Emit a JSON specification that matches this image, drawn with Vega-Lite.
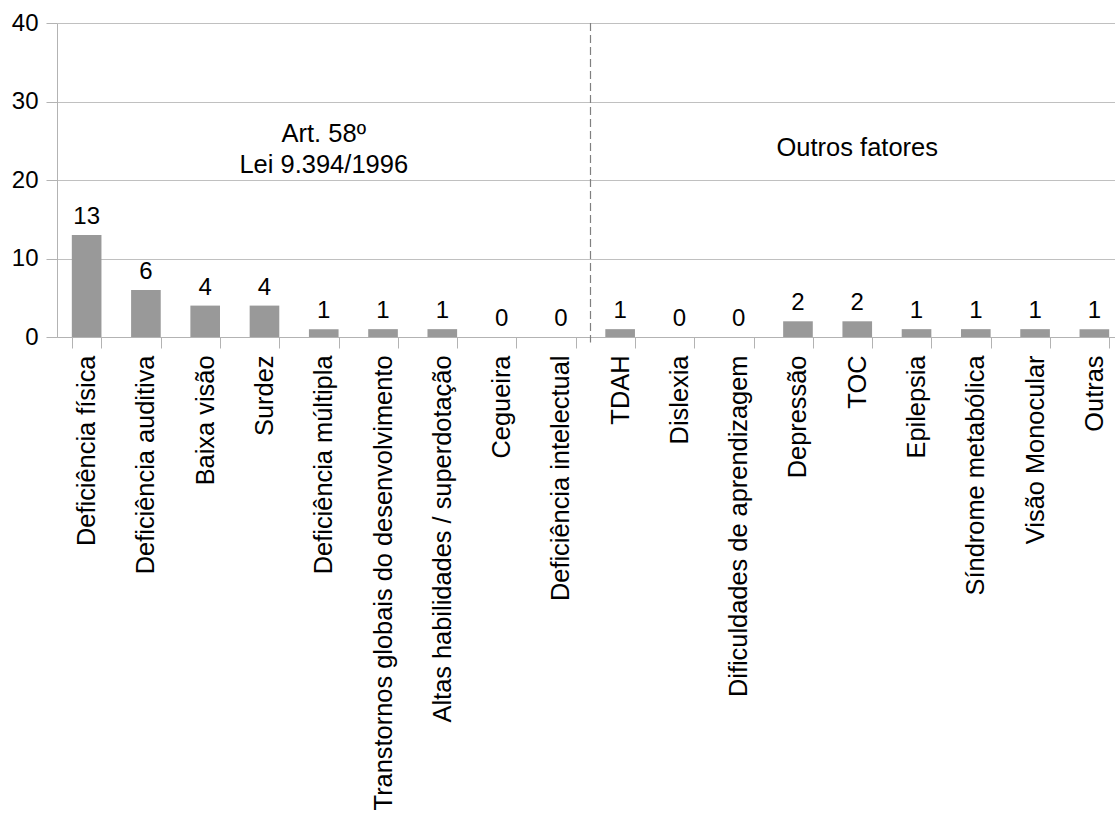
{
  "$schema": "https://vega.github.io/schema/vega-lite/v6.json",
  "autosize": {"type": "none"},
  "padding": {"left": 57, "top": 23, "right": 0, "bottom": 481},
  "width": 1067,
  "height": 314,
  "config": {
    "view": {"stroke": null},
    "font": "Liberation Sans",
    "axis": {"labelFont": "Liberation Sans", "labelColor": "#000000", "domainColor": "#b3b3b3", "tickColor": "#b3b3b3", "gridColor": "#c0c0c0", "domainWidth": 1, "tickWidth": 1, "gridWidth": 1}
  },
  "datasets": {
    "counts": [
      {"cat": "Deficiência física", "n": 13},
      {"cat": "Deficiência auditiva", "n": 6},
      {"cat": "Baixa visão", "n": 4},
      {"cat": "Surdez", "n": 4},
      {"cat": "Deficiência múltipla", "n": 1},
      {"cat": "Transtornos globais do desenvolvimento", "n": 1},
      {"cat": "Altas habilidades / superdotação", "n": 1},
      {"cat": "Cegueira", "n": 0},
      {"cat": "Deficiência intelectual", "n": 0},
      {"cat": "TDAH", "n": 1},
      {"cat": "Dislexia", "n": 0},
      {"cat": "Dificuldades de aprendizagem", "n": 0},
      {"cat": "Depressão", "n": 2},
      {"cat": "TOC", "n": 2},
      {"cat": "Epilepsia", "n": 1},
      {"cat": "Síndrome metabólica", "n": 1},
      {"cat": "Visão Monocular", "n": 1},
      {"cat": "Outras", "n": 1}
    ],
    "one": [{}]
  },
  "layer": [
    {
      "data": {"name": "counts"},
      "encoding": {
        "x": {
          "field": "cat", "type": "nominal", "sort": null, "title": null,
          "scale": {"paddingInner": 0.5, "paddingOuter": 0.25},
          "axis": {"labelAngle": -90, "labelFontSize": 25.4, "labelPadding": 7, "tickSize": 11, "tickBand": "extent", "labelLimit": 0, "grid": false}
        },
        "y": {
          "field": "n", "type": "quantitative", "title": null,
          "scale": {"domain": [0, 40], "nice": false},
          "axis": {"values": [0, 10, 20, 30, 40], "labelFontSize": 24, "labelPadding": 8, "tickSize": 11, "grid": true}
        }
      },
      "layer": [
        {"mark": {"type": "bar", "color": "#999999"}},
        {"mark": {"type": "text", "fontSize": 24, "baseline": "alphabetic", "dy": -11, "color": "#000000"}, "encoding": {"text": {"field": "n", "type": "quantitative"}}}
      ]
    },
    {
      "data": {"name": "one"},
      "mark": {"type": "rule", "strokeDash": [8, 4], "color": "#808080", "strokeWidth": 1.2, "clip": false},
      "encoding": {
        "x": {"datum": "TDAH", "type": "nominal", "bandPosition": -0.5},
        "y": {"datum": 40, "type": "quantitative"},
        "y2": {"datum": -0.7}
      }
    },
    {
      "data": {"name": "one"},
      "mark": {"type": "text", "fontSize": 25.5, "baseline": "alphabetic", "lineHeight": 31, "align": "center", "color": "#000000", "text": ["Art. 58º", "Lei 9.394/1996"]},
      "encoding": {"x": {"datum": "Deficiência múltipla", "type": "nominal"}, "y": {"datum": 24.8, "type": "quantitative"}}
    },
    {
      "data": {"name": "one"},
      "mark": {"type": "text", "fontSize": 25.5, "baseline": "alphabetic", "align": "center", "color": "#000000", "text": "Outros fatores"},
      "encoding": {"x": {"datum": "TOC", "type": "nominal"}, "y": {"datum": 23.0, "type": "quantitative"}}
    }
  ]
}
